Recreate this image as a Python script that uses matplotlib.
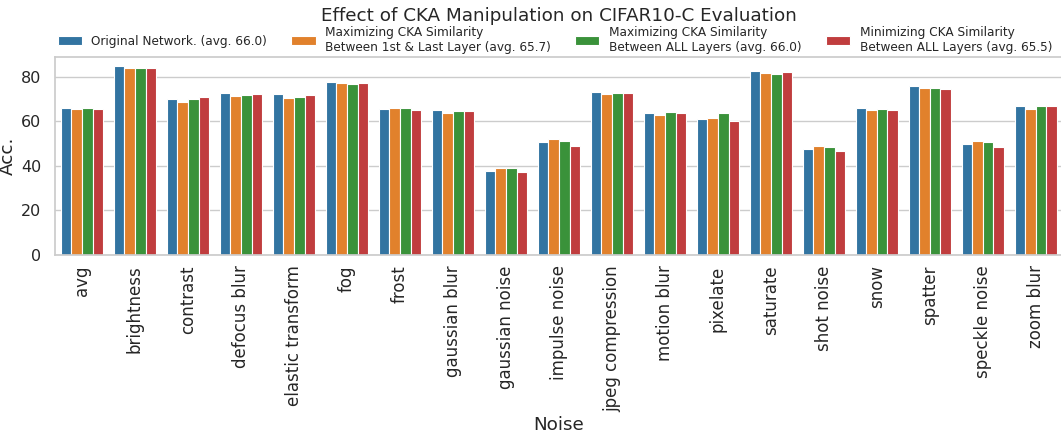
import numpy as np
import pandas as pd
import matplotlib
matplotlib.use('Agg')
import matplotlib.pyplot as plt
import seaborn as sns

# Accuracy per corruption type

noises = ['avg', 'brightness', 'contrast', 'defocus blur', 'elastic transform',
          'fog', 'frost', 'gaussian blur', 'gaussian noise', 'impulse noise',
          'jpeg compression', 'motion blur', 'pixelate', 'saturate', 'shot noise',
          'snow', 'spatter', 'speckle noise', 'zoom blur']

original  = [66.0, 84.8, 70.2, 72.9, 72.2, 77.7, 65.4, 65.1, 37.7, 50.9,
             73.2, 63.9, 61.1, 82.7, 47.6, 66.0, 75.9, 49.8, 67.1]
max_first_last = [65.7, 84.2, 68.7, 71.3, 70.7, 77.1, 66.2, 63.6, 39.3, 52.2,
                  72.3, 63.0, 61.5, 81.8, 48.8, 65.3, 75.0, 51.3, 65.4]
max_all   = [66.0, 83.9, 70.2, 72.0, 71.1, 76.8, 66.2, 64.8, 38.9, 51.2,
             72.6, 64.2, 63.9, 81.5, 48.3, 65.7, 75.2, 50.7, 66.9]
min_all   = [65.5, 84.2, 71.0, 72.5, 72.0, 77.4, 65.1, 64.8, 37.2, 49.1,
             72.9, 63.8, 60.3, 82.2, 46.8, 65.1, 74.6, 48.6, 66.9]

labels = ['Original Network. (avg. 66.0)',
          'Maximizing CKA Similarity\nBetween 1st & Last Layer (avg. 65.7)',
          'Maximizing CKA Similarity\nBetween ALL Layers (avg. 66.0)',
          'Minimizing CKA Similarity\nBetween ALL Layers (avg. 65.5)']

rows = []
for label, vals in zip(labels, [original, max_first_last, max_all, min_all]):
    for n, v in zip(noises, vals):
        rows.append({'Noise': n, 'Acc.': v, 'Model': label})
df = pd.DataFrame(rows)

sns.set_theme(style='whitegrid')
plt.rcParams['font.family'] = ['DejaVu Sans']

fig = plt.figure(figsize=(10.61, 4.33), dpi=100)
ax = fig.add_axes([0.0523, 0.411, 0.949, 0.458])

sns.barplot(data=df, x='Noise', y='Acc.', hue='Model', ax=ax,
            palette='tab10', saturation=0.75, edgecolor='white', linewidth=0.8)

ax.set_title('Effect of CKA Manipulation on CIFAR10-C Evaluation',
             fontsize=13.2, pad=26)
ax.set_xlabel('Noise', fontsize=13.2, labelpad=3)
ax.set_ylabel('Acc.', fontsize=13.2, labelpad=3)
ax.tick_params(axis='x', labelrotation=90, labelsize=12, pad=1.5)
ax.tick_params(axis='y', labelsize=11.5, pad=4)
ax.set_yticks([0, 20, 40, 60, 80])

ax.legend(loc='lower center', bbox_to_anchor=(0.496, 0.99), borderaxespad=0,
          ncol=4, frameon=False, fontsize=8.7, labelspacing=0.3)

fig.savefig('out.png', dpi=100)
